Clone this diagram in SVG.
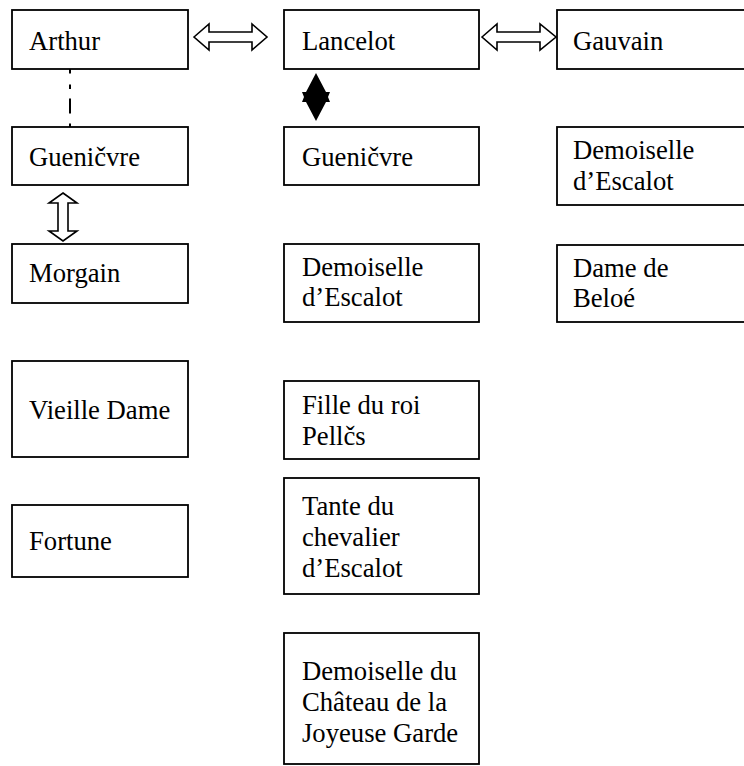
<svg xmlns="http://www.w3.org/2000/svg" width="744" height="766" viewBox="0 0 744 766">
  <style>
    .box { fill: #fff; stroke: #000; stroke-width: 1.8; }
    .lbl { font-family: "Liberation Serif", "DejaVu Serif", serif; font-size: 26.67px; fill: #000; }
    .dbl { fill: #fff; stroke: #000; stroke-width: 1.6; stroke-linejoin: miter; }
  </style>
  <rect width="744" height="766" fill="#fff"/>

  <!-- connectors -->
  <g id="connectors">
    <!-- Arthur - Guenièvre (dash-dot) -->
    <line x1="70" y1="69" x2="70" y2="127" stroke="#000" stroke-width="2" stroke-dasharray="4.5 11 4.5 9.5 15 10 4"/>
    <!-- Arthur <=> Lancelot -->
    <path class="dbl" d="M194,37 L209,24 L209,32 L252,32 L252,24 L267,37 L252,50 L252,42 L209,42 L209,50 Z"/>
    <!-- Lancelot <=> Gauvain -->
    <path class="dbl" d="M482,37 L497,24 L497,32 L540,32 L540,24 L556,37 L540,50 L540,42 L497,42 L497,50 Z"/>
    <!-- Guenièvre <=> Morgain -->
    <path class="dbl" d="M63,193 L77,203 L68,203 L68,231 L77,231 L63,241 L49,231 L58,231 L58,203 L49,203 Z"/>
    <!-- Lancelot - Guenièvre (filled diamond) -->
    <path d="M316,73 L326,92 L330,92 L328,97 L330,102 L326,102 L316,121 L306,102 L302,102 L304,97 L302,92 L306,92 Z" fill="#000"/>
  </g>

  <!-- left column -->
  <g id="arthur">
    <rect class="box" x="12" y="10" width="176" height="59"/>
    <text class="lbl" x="29" y="50">Arthur</text>
  </g>
  <g id="guenievre-left">
    <rect class="box" x="12" y="127" width="176" height="58"/>
    <text class="lbl" x="29" y="166">Gueničvre</text>
  </g>
  <g id="morgain">
    <rect class="box" x="12" y="244" width="176" height="59"/>
    <text class="lbl" x="29" y="282">Morgain</text>
  </g>
  <g id="vieille-dame">
    <rect class="box" x="12" y="361" width="176" height="96"/>
    <text class="lbl" x="29" y="419">Vieille Dame</text>
  </g>
  <g id="fortune">
    <rect class="box" x="12" y="505" width="176" height="72"/>
    <text class="lbl" x="29" y="550">Fortune</text>
  </g>

  <!-- middle column -->
  <g id="lancelot">
    <rect class="box" x="284" y="10" width="195" height="59"/>
    <text class="lbl" x="302" y="50">Lancelot</text>
  </g>
  <g id="guenievre-mid">
    <rect class="box" x="284" y="127" width="195" height="58"/>
    <text class="lbl" x="302" y="166">Gueničvre</text>
  </g>
  <g id="demoiselle-escalot-mid">
    <rect class="box" x="284" y="244" width="195" height="78"/>
    <text class="lbl" x="302" y="276">Demoiselle</text>
    <text class="lbl" x="302" y="306">d’Escalot</text>
  </g>
  <g id="fille-roi-pelles">
    <rect class="box" x="284" y="381" width="195" height="78"/>
    <text class="lbl" x="302" y="414">Fille du roi</text>
    <text class="lbl" x="302" y="445">Pellčs</text>
  </g>
  <g id="tante-chevalier">
    <rect class="box" x="284" y="478" width="195" height="116"/>
    <text class="lbl" x="302" y="515">Tante du</text>
    <text class="lbl" x="302" y="546">chevalier</text>
    <text class="lbl" x="302" y="577">d’Escalot</text>
  </g>
  <g id="demoiselle-joyeuse-garde">
    <rect class="box" x="284" y="633" width="195" height="131"/>
    <text class="lbl" x="302" y="680">Demoiselle du</text>
    <text class="lbl" x="302" y="711">Château de la</text>
    <text class="lbl" x="302" y="742">Joyeuse Garde</text>
  </g>

  <!-- right column -->
  <g id="gauvain">
    <rect class="box" x="557" y="10" width="195" height="59"/>
    <text class="lbl" x="573" y="50">Gauvain</text>
  </g>
  <g id="demoiselle-escalot-right">
    <rect class="box" x="557" y="127" width="195" height="78"/>
    <text class="lbl" x="573" y="159">Demoiselle</text>
    <text class="lbl" x="573" y="190">d’Escalot</text>
  </g>
  <g id="dame-beloe">
    <rect class="box" x="557" y="245" width="195" height="77"/>
    <text class="lbl" x="573" y="277">Dame de</text>
    <text class="lbl" x="573" y="307">Beloé</text>
  </g>
</svg>
